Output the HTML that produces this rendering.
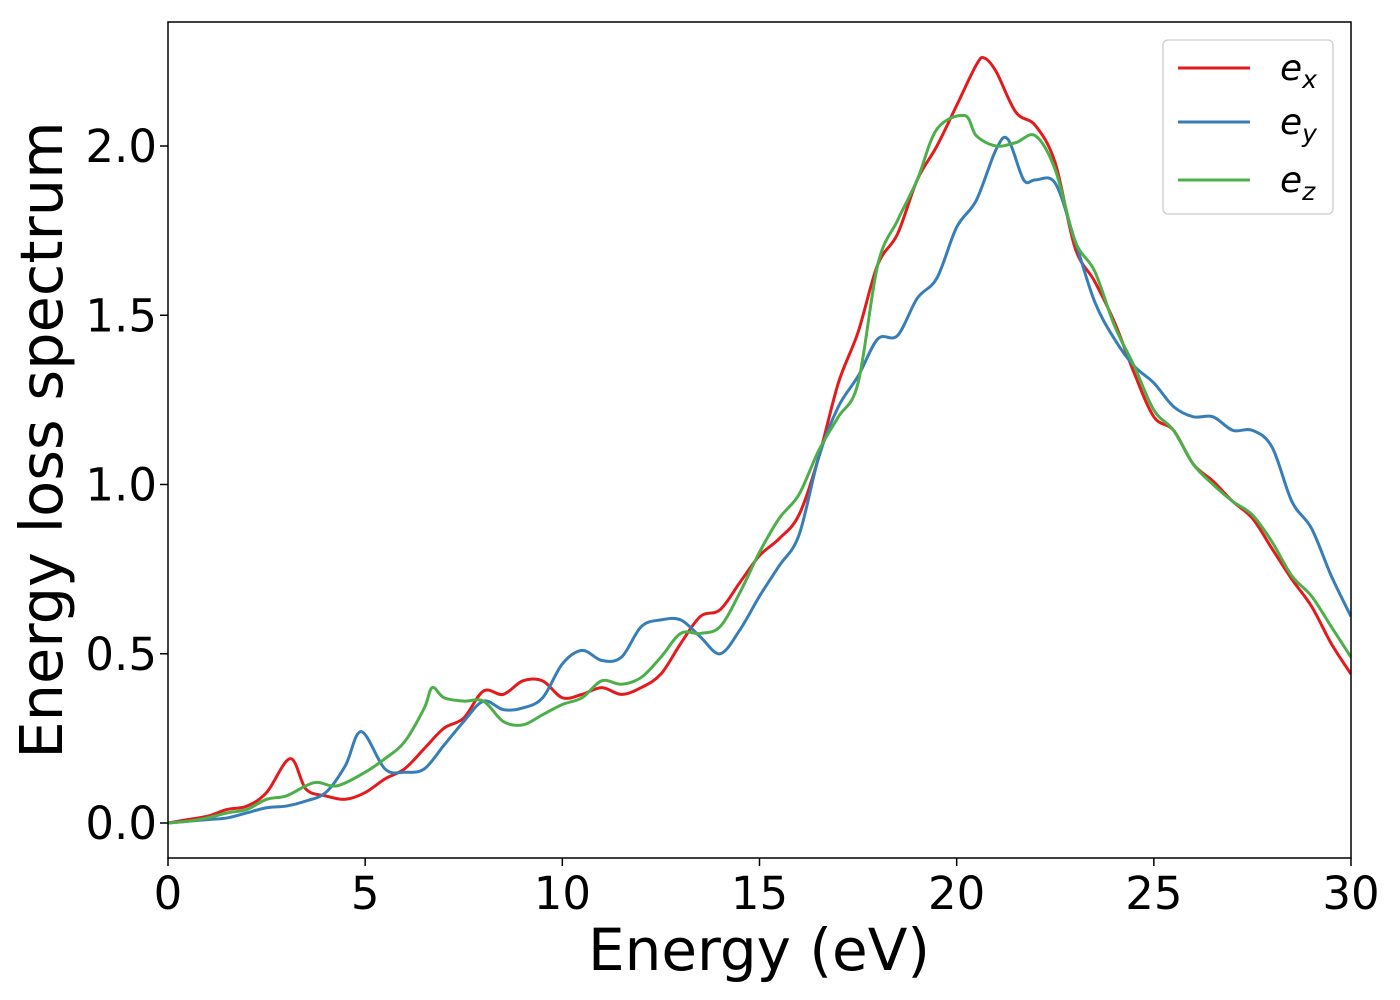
<!DOCTYPE html>
<html><head><meta charset="utf-8"><style>
html,body{margin:0;padding:0;background:#fff;}
svg{display:block;font-family:"DejaVu Sans","Liberation Sans",sans-serif;}
</style></head><body>
<svg id="chart" width="1400" height="1000">
<rect x="0" y="0" width="1400" height="1000" fill="#fff"/>
<g id="series"></g>
<rect x="168" y="22" width="1183" height="836" fill="none" stroke="#000" stroke-width="1.5"/>
<g id="xticks"></g>
<g id="yticks"></g>
<text x="759" y="970" font-size="58" text-anchor="middle">Energy (eV)</text>
<text transform="translate(62,440) rotate(-90)" font-size="59" text-anchor="middle">Energy loss spectrum</text>
<g>
<rect x="1163" y="40" width="170" height="174" rx="5" fill="#fff" fill-opacity="0.8" stroke="#ccc" stroke-width="1.3"/>
<g><line x1="1178" y1="68" x2="1250" y2="68" stroke="#e41a1c" stroke-width="3"/><text x="1280" y="80" font-size="36" font-style="italic">e<tspan font-size="25" dy="8">x</tspan></text></g>
<g><line x1="1178" y1="122" x2="1250" y2="122" stroke="#377eb8" stroke-width="3"/><text x="1280" y="134" font-size="36" font-style="italic">e<tspan font-size="25" dy="8">y</tspan></text></g>
<g><line x1="1178" y1="180" x2="1250" y2="180" stroke="#4daf4a" stroke-width="3"/><text x="1280" y="192" font-size="36" font-style="italic">e<tspan font-size="25" dy="8">z</tspan></text></g>
</g>
</svg>
<script>
const xTicks=[0,5,10,15,20,25,30];
const yTicks=[0.0,0.5,1.0,1.5,2.0];
const yTickLabels=["0.0","0.5","1.0","1.5","2.0"];
const exE=[0,0.5,1,1.5,2,2.5,3.1,3.5,4,4.5,5,5.5,6,6.5,7,7.5,8,8.5,9,9.5,10,10.5,11,11.5,12,12.5,13,13.5,14,14.5,15,15.5,16,16.5,17,17.5,18,18.5,19,19.5,20,20.5,20.7,21,21.5,22,22.5,23,23.5,24,24.5,25,25.5,26,26.5,27,27.5,28,28.5,29,29.5,30];
const exV=[0,0.01,0.02,0.04,0.05,0.09,0.19,0.10,0.08,0.07,0.09,0.13,0.16,0.22,0.28,0.31,0.39,0.38,0.42,0.42,0.37,0.38,0.40,0.38,0.40,0.44,0.53,0.61,0.63,0.71,0.79,0.84,0.91,1.08,1.30,1.45,1.65,1.74,1.90,2.00,2.12,2.24,2.26,2.22,2.10,2.06,1.95,1.70,1.60,1.48,1.33,1.20,1.16,1.06,1.01,0.95,0.90,0.81,0.72,0.64,0.53,0.44];
const eyE=[0,0.5,1,1.5,2,2.5,3,3.5,4,4.5,4.9,5.5,6,6.5,7,7.5,8,8.5,9,9.5,10,10.5,11,11.5,12,12.5,13,13.5,14,14.5,15,15.5,16,16.5,17,17.5,18,18.5,19,19.5,20,20.5,21,21.3,21.7,22,22.5,23,23.5,24,24.5,25,25.5,26,26.5,27,27.5,28,28.5,29,29.5,30];
const eyV=[0,0.005,0.01,0.015,0.03,0.045,0.05,0.065,0.09,0.17,0.27,0.16,0.15,0.16,0.23,0.30,0.36,0.335,0.34,0.37,0.47,0.51,0.48,0.49,0.58,0.60,0.60,0.55,0.50,0.57,0.67,0.76,0.85,1.08,1.23,1.32,1.43,1.44,1.55,1.61,1.76,1.84,1.99,2.02,1.90,1.90,1.89,1.72,1.54,1.43,1.35,1.30,1.23,1.20,1.20,1.16,1.16,1.11,0.95,0.87,0.73,0.61];
const ezE=[0,0.5,1,1.5,2,2.5,3,3.5,3.8,4.3,5,5.5,6,6.5,6.7,7,7.5,8,8.5,9,9.5,10,10.5,11,11.5,12,12.5,13,13.5,14,14.5,15,15.5,16,16.5,17,17.5,18,18.5,19,19.5,20.2,20.5,21,21.5,22,22.5,23,23.5,24,24.5,25,25.5,26,26.5,27,27.5,28,28.5,29,29.5,30];
const ezV=[0,0.005,0.015,0.03,0.04,0.07,0.08,0.11,0.12,0.11,0.15,0.19,0.24,0.34,0.40,0.37,0.36,0.36,0.30,0.29,0.32,0.35,0.37,0.42,0.41,0.43,0.49,0.56,0.56,0.58,0.68,0.80,0.90,0.97,1.10,1.20,1.30,1.65,1.78,1.90,2.05,2.09,2.03,2.00,2.01,2.03,1.93,1.72,1.63,1.47,1.35,1.22,1.16,1.06,1.00,0.95,0.91,0.83,0.73,0.67,0.58,0.49];

const X0=168,X1=1351,Y0=823,PXU=338.5;
const xs=e=>X0+(X1-X0)*e/30;
const ys=v=>Y0-v*PXU;
const NS='http://www.w3.org/2000/svg';

function pathFor(E,V){
  const p=E.map((e,i)=>[xs(e),ys(V[i])]);
  let d='M'+p[0][0].toFixed(2)+','+p[0][1].toFixed(2);
  for(let i=0;i<p.length-1;i++){
    const a=p[Math.max(0,i-1)],b=p[i],c=p[i+1],n=p[Math.min(p.length-1,i+2)];
    const c1=[b[0]+(c[0]-a[0])/6,b[1]+(c[1]-a[1])/6];
    const c2=[c[0]-(n[0]-b[0])/6,c[1]-(n[1]-b[1])/6];
    d+=' C'+c1[0].toFixed(2)+','+c1[1].toFixed(2)+' '+c2[0].toFixed(2)+','+c2[1].toFixed(2)+' '+c[0].toFixed(2)+','+c[1].toFixed(2);
  }
  return d;
}
const g=document.getElementById('series');
const clip=document.createElementNS(NS,'clipPath');clip.id='pc';
const cr=document.createElementNS(NS,'rect');cr.setAttribute('x',X0);cr.setAttribute('y',22);cr.setAttribute('width',X1-X0);cr.setAttribute('height',836);
clip.appendChild(cr);g.appendChild(clip);
[[exE,exV,'#e41a1c','series-ex'],[eyE,eyV,'#377eb8','series-ey'],[ezE,ezV,'#4daf4a','series-ez']].forEach(s=>{
  const el=document.createElementNS(NS,'path');
  el.setAttribute('d',pathFor(s[0],s[1]));
  el.setAttribute('fill','none');el.setAttribute('stroke',s[2]);el.setAttribute('stroke-width','3');
  el.setAttribute('clip-path','url(#pc)');
  
  
  g.appendChild(el);
});
const xg=document.getElementById('xticks');
xTicks.forEach(t=>{
  const l=document.createElementNS(NS,'line');
  l.setAttribute('x1',xs(t));l.setAttribute('x2',xs(t));l.setAttribute('y1',858);l.setAttribute('y2',866);l.setAttribute('stroke','#000');l.setAttribute('stroke-width','1.5');
  
  
  xg.appendChild(l);
  const tx=document.createElementNS(NS,'text');
  tx.setAttribute('x',xs(t));tx.setAttribute('y',909);tx.setAttribute('font-size','45');tx.setAttribute('text-anchor','middle');
  tx.textContent=String(t);
  
  
  xg.appendChild(tx);
});
const yg=document.getElementById('yticks');
yTicks.forEach((t,i)=>{
  const l=document.createElementNS(NS,'line');
  l.setAttribute('x1',160);l.setAttribute('x2',168);l.setAttribute('y1',ys(t));l.setAttribute('y2',ys(t));l.setAttribute('stroke','#000');l.setAttribute('stroke-width','1.5');
  
  
  yg.appendChild(l);
  const tx=document.createElementNS(NS,'text');
  tx.setAttribute('x',157);tx.setAttribute('y',ys(t)+16);tx.setAttribute('font-size','45');tx.setAttribute('text-anchor','end');
  tx.textContent=yTickLabels[i];
  
  
  yg.appendChild(tx);
});
</script>
</body></html>
